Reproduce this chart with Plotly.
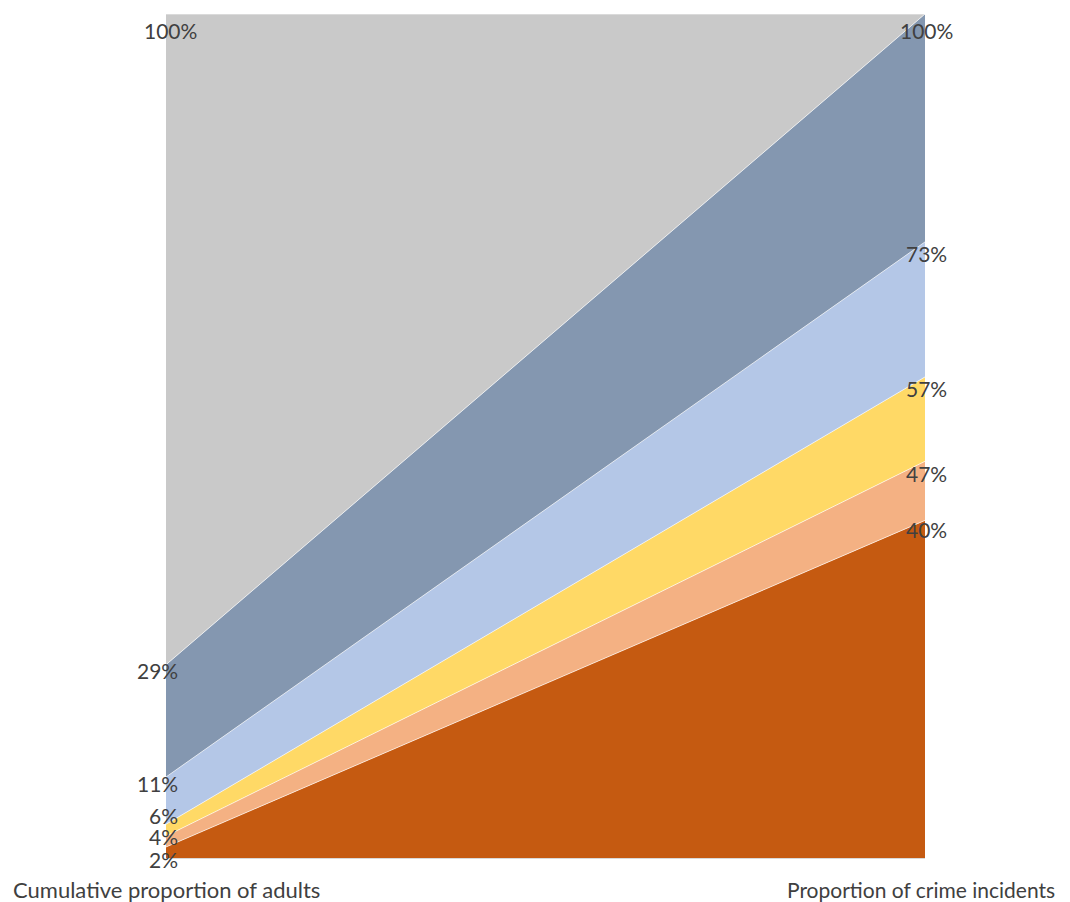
import plotly.graph_objects as go

# Data
categories = ["Cumulative proportion of adults", "Proportion of crime incidents"]
series_names = ["Group 1", "Group 2", "Group 3", "Group 4", "Group 5", "Group 6"]
# cumulative boundaries (percent) at left and right edges, as drawn
left_cum = [1.3, 2.6, 4.0, 9.6, 22.9, 100.0]
right_cum = [40.0, 47.0, 57.0, 73.0, 100.0, 100.0]
left_labels = ["2%", "4%", "6%", "11%", "29%", "100%"]
right_labels = ["40%", "47%", "57%", "73%", "100%"]
colors = ["#C55A11", "#F4B183", "#FFD966", "#B4C7E7", "#8497B0", "#C9C9C9"]

def increments(cum):
    out, prev = [], 0.0
    for c in cum:
        out.append(c - prev)
        prev = c
    return out

left_inc = increments(left_cum)
right_inc = increments(right_cum)

fig = go.Figure()
for name, l, r, col in zip(series_names, left_inc, right_inc, colors):
    fig.add_trace(go.Scatter(
        x=[0, 1], y=[l, r], name=name, mode="lines",
        stackgroup="one", fillcolor=col,
        line=dict(width=0.8, color="rgba(255,255,255,0.8)"),
        hoverinfo="skip",
    ))

FONT = "Lato, Open Sans, sans-serif"
TXT = "#404040"
ann = []
# left labels: positioned near their boundaries
left_label_y = [0.0, 2.6, 5.0, 8.8, 22.2, 98.1]
for lab, yv in zip(left_labels, left_label_y):
    if lab == "100%":
        ann.append(dict(x=0, y=yv, text=lab, xref="x", yref="y", showarrow=False,
                        xanchor="center", yanchor="middle", xshift=4,
                        font=dict(family=FONT, size=21, color=TXT)))
    else:
        ann.append(dict(x=0, y=yv, text=lab, xref="x", yref="y", showarrow=False,
                        xanchor="right", yanchor="middle", xshift=14,
                        yshift=(-1 if lab == "2%" else 0),
                        font=dict(family=FONT, size=21, color=TXT)))
right_label_y = [38.9, 45.5, 55.6, 71.6, 98.1]
for lab, yv in zip(right_labels, right_label_y):
    ann.append(dict(x=1, y=yv, text=lab, xref="x", yref="y", showarrow=False,
                    xanchor="center", yanchor="middle", xshift=1,
                    font=dict(family=FONT, size=21, color=TXT)))
# category labels below axis
cat_sizes = [22, 21]
cat_shift = [0, -4]
for xv, cat, sz, sh in zip([0, 1], categories, cat_sizes, cat_shift):
    ann.append(dict(x=xv, y=0, text=cat, xref="x", yref="y", showarrow=False,
                    xanchor="center", yanchor="middle", yshift=-31, xshift=sh,
                    font=dict(family=FONT, size=sz, color=TXT)))

fig.update_layout(
    width=1070, height=902,
    margin=dict(l=158, r=153, t=6, b=52),
    paper_bgcolor="white", plot_bgcolor="white",
    showlegend=False,
    annotations=ann,
    xaxis=dict(range=[0, 1], showgrid=False, zeroline=False, showticklabels=False,
               showline=True, linecolor="#D9D9D9", linewidth=1, ticks=""),
    yaxis=dict(range=[0, 100], showgrid=False, zeroline=False, showticklabels=False,
               showline=False, ticks=""),
)

fig.write_html("out.html")
